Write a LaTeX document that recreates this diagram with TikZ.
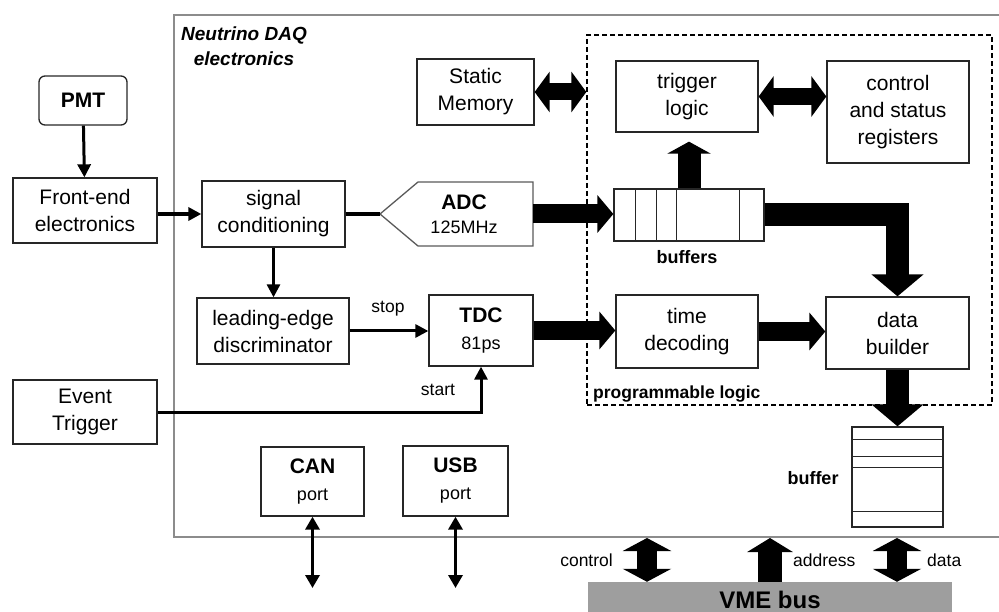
\documentclass[tikz,border=0pt]{standalone}
\usepackage{fontspec}
\setmainfont{Liberation Sans}
\usetikzlibrary{arrows.meta}
\newcommand{\fsz}[2]{\fontsize{#1}{#2}\selectfont}

\tikzset{
	box/.style={draw=black!85, line width=1.3pt, align=center, font=\fsz{21}{27}, inner sep=0pt},
	lbl/.style={font=\fsz{17.5}{20}, inner sep=0pt},
	blbl/.style={font=\bfseries\fsz{18}{20}, inner sep=0pt},
	thinarr/.style={line width=3pt, -{Triangle[length=13pt,width=13pt]}},
	thinboth/.style={line width=3.5pt, {Triangle[length=13pt,width=14pt]}-{Triangle[length=13pt,width=14pt]}},
	fatarr/.style={line width=19pt, -{Triangle[length=16pt,width=37pt]}},
	fatboth/.style={line width=17pt, {Triangle[length=15pt,width=40pt]}-{Triangle[length=15pt,width=40pt]}},
	uparr/.style={line width=23pt, -{Triangle[length=12pt,width=43pt]}},
	hugearr/.style={line width=23pt, -{Triangle[length=22pt,width=51pt]}},
	vmeboth/.style={line width=20pt, {Triangle[length=13pt,width=48pt]}-{Triangle[length=13pt,width=48pt]}},
	vmeup/.style={line width=24pt, -{Triangle[length=14pt,width=45pt]}},
}

\begin{document}
\begin{tikzpicture}[x=1pt,y=-1pt]
	\useasboundingbox (0,0) rectangle (999,612);
	\draw[black!45, line width=1.5pt] (1005,15) -- (174,15) -- (174,537) -- (1005,537);
	\node[font=\bfseries\itshape\fsz{19}{25}, align=center] (title) at (244,46) {Neutrino DAQ\\electronics};
	\node[draw, dash pattern=on 5pt off 3pt, line width=1.3pt, minimum width=405pt, minimum height=370pt] (prog) at (789.5,220) {};
	\node[font=\bfseries\fsz{17.5}{20}, inner sep=0pt, anchor=west] (proglbl) at (593,394) {programmable logic};

	\node[box, rounded corners=6pt, minimum width=88pt, minimum height=49pt] (pmt) at (83,100.5) {\bfseries PMT};
	\node[box, minimum width=144pt, minimum height=65pt] (fe) at (85,210.5) {Front-end\\electronics};
	\node[box, minimum width=144pt, minimum height=64pt] (et) at (85,412) {Event\\Trigger};
	\node[box, minimum width=143pt, minimum height=66pt] (sc) at (273.5,214) {signal\\conditioning};
	\node[box, minimum width=152pt, minimum height=66pt] (led) at (273,331) {leading-edge\\discriminator};
	\node[box, minimum width=104pt, minimum height=71pt] (tdc) at (481,330.5) {{\bfseries TDC}\\{\fsz{18}{27}81ps}};

	\node[font=\bfseries\fsz{21}{24}, align=center] (adc) at (464,214) {ADC\\{\mdseries\fsz{18}{24}125MHz}};
	\draw[black!65, line width=1.3pt] (380,214) -- (418,182) -- (533,182) -- (533,246) -- (418,246) -- cycle;
	\coordinate (adcin) at (380,214);
	\coordinate (adcout) at (533,214);

	\node[box, minimum width=117pt, minimum height=66pt] (sm) at (475.5,92) {Static\\Memory};
	\node[box, minimum width=142pt, minimum height=71pt] (tl) at (687,96.5) {trigger\\logic};
	\node[box, minimum width=142pt, minimum height=102pt] (csr) at (898,112) {control\\and status\\registers};
	\node[box, minimum width=150pt, minimum height=52pt] (buf) at (689,215) {};
	\foreach \d in {22,43,63,126}
		\draw[black!85, line width=1.3pt] ([xshift=\d pt]buf.north west) -- ([xshift=\d pt]buf.south west);
	\node[blbl] (buflbl) at (687,257) {buffers};
	\node[box, minimum width=142pt, minimum height=73pt] (td) at (687,331.5) {time\\decoding};
	\node[box, minimum width=143pt, minimum height=72pt] (db) at (897.5,333) {data\\builder};
	\node[box, minimum width=91pt, minimum height=100pt] (ob) at (897.5,477) {};
	\foreach \d in {13,30,41,85}
		\draw[black!85, line width=1.3pt] ([yshift=-\d pt]ob.north west) -- ([yshift=-\d pt]ob.north east);
	\node[blbl] (oblbl) at (813,478) {buffer};

	\node[box, minimum width=103pt, minimum height=69pt] (can) at (312.5,481.5) {{\bfseries CAN}\\{\fsz{18}{27}port}};
	\node[box, minimum width=105pt, minimum height=70pt] (usb) at (455.5,481) {{\bfseries USB}\\{\fsz{18}{27}port}};
	\coordinate (canend) at (312.5,588);
	\coordinate (usbend) at (455.5,588);
	\node[fill=black!38, minimum width=364pt, minimum height=36pt, font=\bfseries\fsz{24}{24}] (vme) at (770,600) {VME bus};
	\coordinate (ctl) at (647,538);
	\coordinate (adr) at (770,538);
	\coordinate (dat) at (897,538);

	\draw[thinarr] (pmt) -- (fe);
	\draw[thinarr, line width=4pt] (fe.east |- sc) -- (sc);
	\draw[line width=4pt] (sc.east |- adcin) -- (adcin);
	\draw[thinarr] (sc.south) -- (sc.south |- led.north);
	\draw[thinarr] (led.east) -- (led.east -| tdc.west);
	\node[lbl] (stoplbl) at (388,309) {stop};
	\draw[thinarr] (et.east) -| (tdc.south);
	\node[lbl] (startlbl) at (438,390) {start};
	\draw[fatarr] (adcout) -- (adcout -| buf.west);
	\draw[fatarr] (tdc.east) -- (tdc.east -| td.west);
	\draw[fatarr] (td.east) -- (td.east -| db.west);
	\draw[fatboth] (sm.east) -- (sm.east -| prog.west);
	\draw[fatboth] (tl.east) -- (tl.east -| csr.west);
	\draw[uparr, shorten >=9pt] (buf.north) -- (buf.north |- tl.south);
	\draw[hugearr] (buf.east) -| (db.north);
	\draw[hugearr] (db) -- (ob);
	\draw[thinboth] (can) -- (canend);
	\draw[thinboth] (usb) -- (usbend);
	\draw[vmeboth] (ctl) -- (ctl |- vme.north);
	\draw[vmeup] (adr |- vme.north) -- (adr);
	\draw[vmeboth] (dat) -- (dat |- vme.north);
	\node[lbl, anchor=east] (ctllbl) at (613,560) {control};
	\node[lbl, anchor=west] (adrlbl) at (793,560) {address};
	\node[lbl, anchor=west] (datlbl) at (927,560) {data};
\end{tikzpicture}
\end{document}
